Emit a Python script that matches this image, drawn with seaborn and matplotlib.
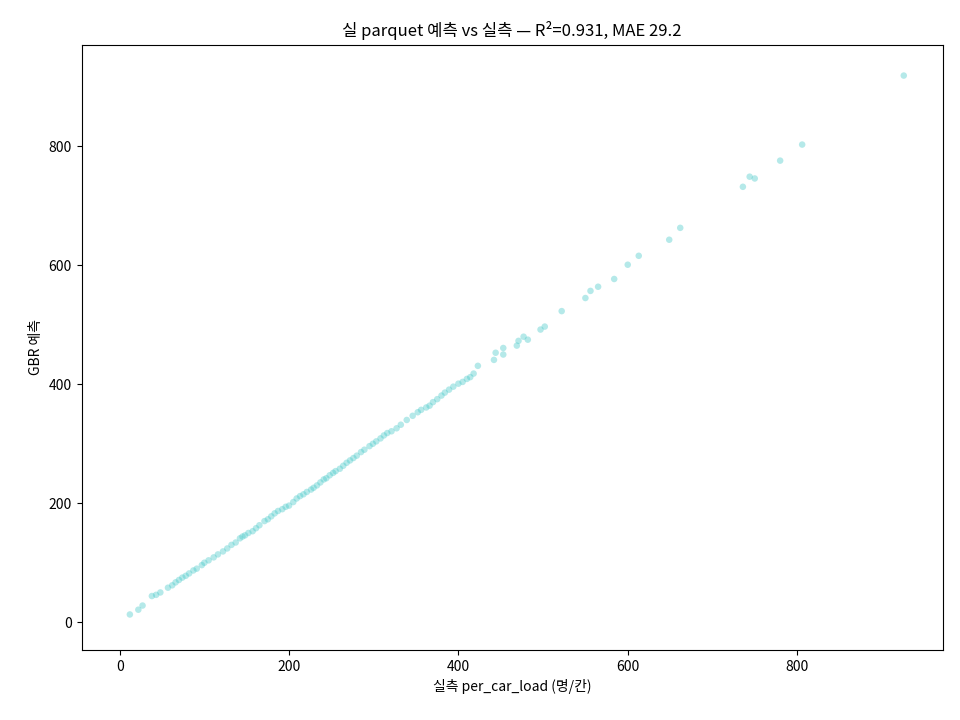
import matplotlib
matplotlib.use("Agg")
import matplotlib.pyplot as plt
import seaborn as sns
import pandas as pd

actual = [12, 22, 27, 38, 43, 48, 57, 62, 66, 70, 74, 78, 82, 87, 91, 97, 100, 105, 111, 116, 122, 127, 132, 137, 142, 145, 148, 152, 157, 161, 165, 171, 175, 179, 183, 187, 192, 196, 200, 205, 209, 213, 217, 221, 226, 229, 233, 237, 241, 244, 248, 252, 255, 260, 264, 268, 272, 276, 280, 285, 289, 295, 299, 303, 308, 312, 316, 321, 327, 332, 339, 346, 352, 356, 362, 366, 370, 375, 380, 384, 389, 394, 400, 405, 410, 414, 418, 423,
          442, 444, 453, 453, 469, 471, 477, 482, 497, 502, 522, 550, 556, 565, 584, 600, 613, 649, 662, 736, 744, 750, 780, 806, 926]
pred = [13, 21, 28, 44, 46, 50, 58, 62, 67, 71, 75, 78, 82, 87, 90, 96, 100, 104, 109, 114, 119, 124, 130, 134, 141, 144, 146, 150, 153, 158, 163, 170, 173, 178, 183, 187, 190, 194, 196, 202, 208, 212, 215, 219, 223, 226, 230, 235, 240, 242, 247, 251, 254, 258, 263, 268, 272, 276, 280, 286, 290, 296, 300, 304, 309, 314, 318, 321, 326, 332, 340, 347, 353, 357, 361, 364, 370, 375, 381, 386, 391, 396, 401, 404, 409, 412, 418, 431,
        441, 453, 450, 461, 465, 473, 480, 475, 492, 497, 523, 545, 557, 564, 577, 601, 616, 643, 663, 732, 749, 746, 776, 803, 919]

df = pd.DataFrame({"actual": actual, "pred": pred})
plt.rcParams['font.family'] = ['Noto Sans CJK KR', 'DejaVu Sans']
fig, ax = plt.subplots(figsize=(9.6, 7.2), dpi=100)
sns.scatterplot(data=df, x="actual", y="pred", ax=ax, s=22, color="#48c9c9",
                alpha=0.4, edgecolor="none")
ax.set_title("실 parquet 예측 vs 실측 — R²=0.931, MAE 29.2")
ax.set_xlabel("실측 per_car_load (명/칸)")
ax.set_ylabel("GBR 예측")
ax.set_xticks([0, 200, 400, 600, 800])
ax.set_yticks([0, 200, 400, 600, 800])
ax.set_xlim(-45, 972)
ax.set_ylim(-47, 971)
fig.subplots_adjust(left=0.085, right=0.982, top=0.938, bottom=0.097)
fig.savefig("out.png")
